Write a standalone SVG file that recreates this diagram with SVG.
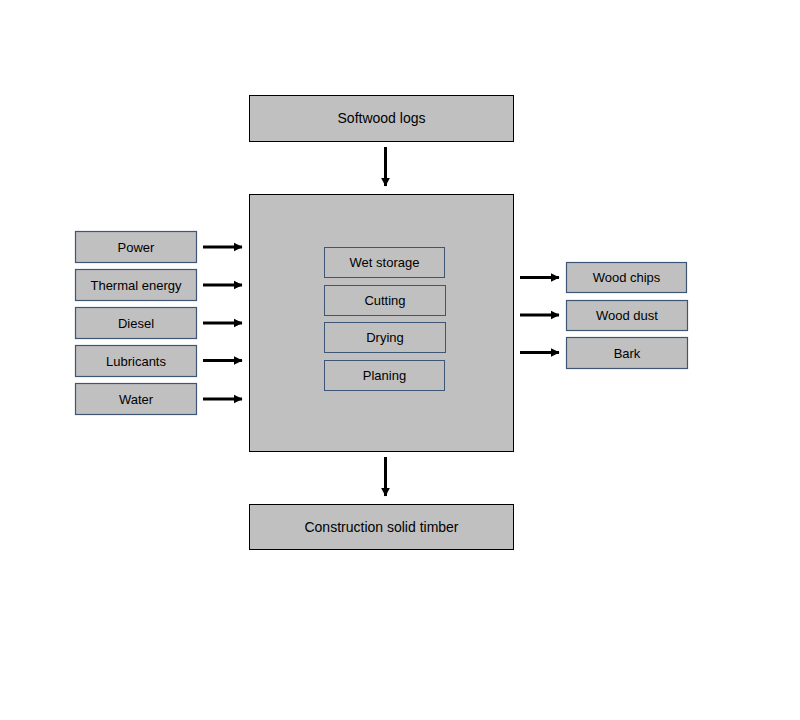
<svg xmlns="http://www.w3.org/2000/svg" width="800" height="720" viewBox="0 0 800 720">
  <style>
    .big { fill: #c0c0c0; stroke: #000; stroke-width: 1; }
    .small { fill: #c0c0c0; stroke: #3e5674; stroke-width: 1.2; }
    .inner { fill: #c0c0c0; stroke: #3e5674; stroke-width: 1; }
    text { font-family: "Liberation Sans", Arial, sans-serif; fill: #000; text-anchor: middle; dominant-baseline: central; }
    .t14 { font-size: 14px; }
    .t13 { font-size: 13px; }
    .arrow { stroke: #000; stroke-width: 3; fill: none; marker-end: url(#head); }
  </style>
  <defs>
    <marker id="head" markerWidth="4" markerHeight="4" refX="2.8" refY="2" orient="auto" markerUnits="strokeWidth">
      <path d="M0,0.5 L3,2 L0,3.5 Z" fill="#000"/>
    </marker>
  </defs>
  <rect width="800" height="720" fill="#fff"/>

  <g id="softwood-logs">
    <rect class="big" x="249.5" y="95.5" width="264" height="46"/>
    <text class="t14" x="381.5" y="118">Softwood logs</text>
  </g>

  <g id="process">
    <rect class="big" x="249.5" y="194.5" width="264" height="257"/>
  </g>
  <g id="wet-storage">
    <rect class="inner" x="324.5" y="247.5" width="120" height="30"/>
    <text class="t13" x="384.5" y="262.5">Wet storage</text>
  </g>
  <g id="cutting">
    <rect class="inner" x="324.5" y="285.5" width="121" height="30"/>
    <text class="t13" x="385" y="300.5">Cutting</text>
  </g>
  <g id="drying">
    <rect class="inner" x="324.5" y="322.5" width="121" height="30"/>
    <text class="t13" x="385" y="337.5">Drying</text>
  </g>
  <g id="planing">
    <rect class="inner" x="324.5" y="360.5" width="120" height="30"/>
    <text class="t13" x="384.5" y="375.5">Planing</text>
  </g>

  <g id="construction-timber">
    <rect class="big" x="249.5" y="504.5" width="264" height="45"/>
    <text class="t14" x="381.5" y="527">Construction solid timber</text>
  </g>

  <g id="power">
    <rect class="small" x="75.5" y="231.5" width="121" height="31"/>
    <text class="t13" x="136" y="247">Power</text>
  </g>
  <g id="thermal-energy">
    <rect class="small" x="75.5" y="269.5" width="121" height="31"/>
    <text class="t13" x="136" y="285">Thermal energy</text>
  </g>
  <g id="diesel">
    <rect class="small" x="75.5" y="307.5" width="121" height="31"/>
    <text class="t13" x="136" y="323">Diesel</text>
  </g>
  <g id="lubricants">
    <rect class="small" x="75.5" y="345.5" width="121" height="31"/>
    <text class="t13" x="136" y="361">Lubricants</text>
  </g>
  <g id="water">
    <rect class="small" x="75.5" y="383.5" width="121" height="31"/>
    <text class="t13" x="136" y="399">Water</text>
  </g>

  <g id="wood-chips">
    <rect class="small" x="566.5" y="262.5" width="120" height="30"/>
    <text class="t13" x="626.5" y="277.5">Wood chips</text>
  </g>
  <g id="wood-dust">
    <rect class="small" x="566.5" y="300.5" width="121" height="30"/>
    <text class="t13" x="627" y="315.5">Wood dust</text>
  </g>
  <g id="bark">
    <rect class="small" x="566.5" y="337.5" width="121" height="31"/>
    <text class="t13" x="627" y="353">Bark</text>
  </g>

  <g id="connectors">
    <line class="arrow" x1="385.5" y1="147" x2="385.5" y2="186"/>
    <line class="arrow" x1="385.5" y1="457" x2="385.5" y2="496"/>
    <line class="arrow" x1="203" y1="247" x2="242" y2="247"/>
    <line class="arrow" x1="203" y1="285" x2="242" y2="285"/>
    <line class="arrow" x1="203" y1="323" x2="242" y2="323"/>
    <line class="arrow" x1="203" y1="360.5" x2="242" y2="360.5"/>
    <line class="arrow" x1="203" y1="399" x2="242" y2="399"/>
    <line class="arrow" x1="520" y1="277.5" x2="559" y2="277.5"/>
    <line class="arrow" x1="520" y1="315" x2="559" y2="315"/>
    <line class="arrow" x1="520" y1="352.5" x2="559" y2="352.5"/>
  </g>
</svg>
